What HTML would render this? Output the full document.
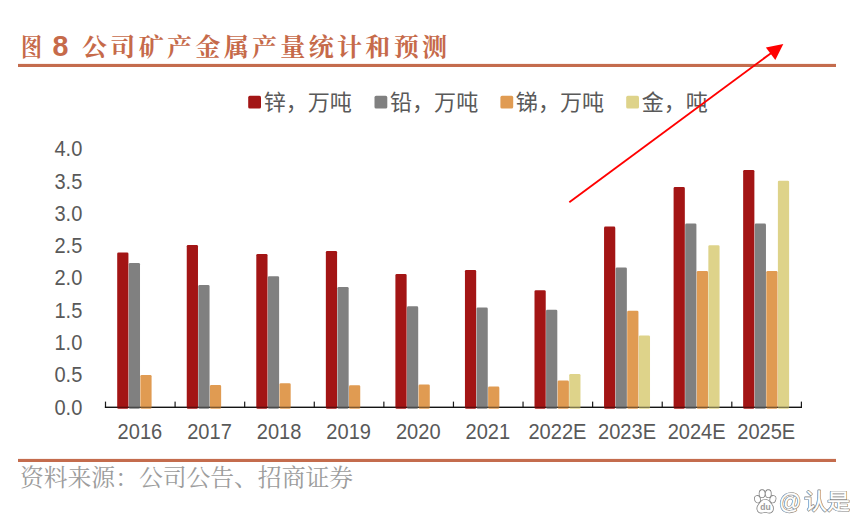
<!DOCTYPE html>
<html lang="zh"><head><meta charset="utf-8"><title>图 8 公司矿产金属产量统计和预测</title>
<style>html,body{margin:0;padding:0;background:#fff}body{width:867px;height:531px;overflow:hidden;position:relative;font-family:"Liberation Sans",sans-serif}svg{position:absolute;left:0;top:0;display:block}.n{font-family:"Liberation Sans",sans-serif;fill:#595959}.t{font-family:"Liberation Serif","Noto Serif CJK SC",serif;font-weight:bold;fill:#C66A4A}.l{font-family:"Liberation Sans","Noto Sans CJK SC",sans-serif;fill:#595959}.s{font-family:"Liberation Serif","Noto Serif CJK SC",serif;fill:#9c9c9c}</style></head><body>
<svg width="867" height="531" viewBox="0 0 867 531">
<rect width="867" height="531" fill="#fff"/>
<rect x="18" y="63.9" width="818" height="3.1" fill="#C46C4D"/>
<rect x="18" y="458.9" width="818" height="3.1" fill="#C46C4D"/>
<text class="t" x="21" y="55.5" font-size="25" textLength="21" lengthAdjust="spacingAndGlyphs">图</text>
<text x="52.4" y="56.35" font-size="28.6" font-weight="bold" style="font-family:'Liberation Sans',sans-serif" fill="#C66A4A">8</text>
<text class="t" x="82" y="55.5" font-size="25" textLength="365" lengthAdjust="spacing">公司矿产金属产量统计和预测</text>
<rect x="248.2" y="95.8" width="12.8" height="12.8" rx="1.6" fill="#A31515"/>
<text class="l" x="263.65" y="110" font-size="22" textLength="88.32" lengthAdjust="spacingAndGlyphs">锌，万吨</text>
<rect x="374.5" y="95.8" width="12.8" height="12.8" rx="1.6" fill="#808080"/>
<text class="l" x="389.95" y="110" font-size="22" textLength="88.32" lengthAdjust="spacingAndGlyphs">铅，万吨</text>
<rect x="500.4" y="95.8" width="12.8" height="12.8" rx="1.6" fill="#E09B52"/>
<text class="l" x="515.85" y="110" font-size="22" textLength="88.32" lengthAdjust="spacingAndGlyphs">锑，万吨</text>
<rect x="626.2" y="95.8" width="12.8" height="12.8" rx="1.6" fill="#DED38A"/>
<text class="l" x="641.65" y="110" font-size="22" textLength="66.24" lengthAdjust="spacingAndGlyphs">金，吨</text>
<g fill="#1a1a1a">
<rect x="104.9" y="406.7" width="697.1" height="1.25"/>
<rect x="104.9" y="401.6" width="1.2" height="6"/>
<rect x="174.49" y="401.6" width="1.2" height="6"/>
<rect x="244.08" y="401.6" width="1.2" height="6"/>
<rect x="313.67" y="401.6" width="1.2" height="6"/>
<rect x="383.26" y="401.6" width="1.2" height="6"/>
<rect x="452.85" y="401.6" width="1.2" height="6"/>
<rect x="522.44" y="401.6" width="1.2" height="6"/>
<rect x="592.03" y="401.6" width="1.2" height="6"/>
<rect x="661.62" y="401.6" width="1.2" height="6"/>
<rect x="731.21" y="401.6" width="1.2" height="6"/>
<rect x="800.8" y="401.6" width="1.2" height="6"/>
</g>
<rect x="117.2" y="252.4" width="11.23" height="156.4" rx="1.3" fill="#A31515"/>
<rect x="128.78" y="262.9" width="11.23" height="145.9" rx="1.3" fill="#808080"/>
<rect x="140.36" y="374.9" width="11.23" height="33.9" rx="1.3" fill="#E09B52"/>
<rect x="186.75" y="245" width="11.23" height="163.8" rx="1.3" fill="#A31515"/>
<rect x="198.33" y="285.1" width="11.23" height="123.7" rx="1.3" fill="#808080"/>
<rect x="209.91" y="385.1" width="11.23" height="23.7" rx="1.3" fill="#E09B52"/>
<rect x="256.3" y="254.05" width="11.23" height="154.75" rx="1.3" fill="#A31515"/>
<rect x="267.88" y="276.3" width="11.23" height="132.5" rx="1.3" fill="#808080"/>
<rect x="279.46" y="383.3" width="11.23" height="25.5" rx="1.3" fill="#E09B52"/>
<rect x="325.85" y="251" width="11.23" height="157.8" rx="1.3" fill="#A31515"/>
<rect x="337.43" y="287" width="11.23" height="121.8" rx="1.3" fill="#808080"/>
<rect x="349.01" y="385.2" width="11.23" height="23.6" rx="1.3" fill="#E09B52"/>
<rect x="395.4" y="274.1" width="11.23" height="134.7" rx="1.3" fill="#A31515"/>
<rect x="406.98" y="306.35" width="11.23" height="102.45" rx="1.3" fill="#808080"/>
<rect x="418.56" y="384.4" width="11.23" height="24.4" rx="1.3" fill="#E09B52"/>
<rect x="464.95" y="270" width="11.23" height="138.8" rx="1.3" fill="#A31515"/>
<rect x="476.53" y="307.5" width="11.23" height="101.3" rx="1.3" fill="#808080"/>
<rect x="488.11" y="386.5" width="11.23" height="22.3" rx="1.3" fill="#E09B52"/>
<rect x="534.5" y="290.2" width="11.23" height="118.6" rx="1.3" fill="#A31515"/>
<rect x="546.08" y="309.7" width="11.23" height="99.1" rx="1.3" fill="#808080"/>
<rect x="557.66" y="380.4" width="11.23" height="28.4" rx="1.3" fill="#E09B52"/>
<rect x="569.24" y="373.9" width="11.23" height="34.9" rx="1.3" fill="#DED38A"/>
<rect x="604.05" y="226.6" width="11.23" height="182.2" rx="1.3" fill="#A31515"/>
<rect x="615.63" y="267.5" width="11.23" height="141.3" rx="1.3" fill="#808080"/>
<rect x="627.21" y="310.8" width="11.23" height="98" rx="1.3" fill="#E09B52"/>
<rect x="638.79" y="335.4" width="11.23" height="73.4" rx="1.3" fill="#DED38A"/>
<rect x="673.6" y="187.1" width="11.23" height="221.7" rx="1.3" fill="#A31515"/>
<rect x="685.18" y="223.4" width="11.23" height="185.4" rx="1.3" fill="#808080"/>
<rect x="696.76" y="270.9" width="11.23" height="137.9" rx="1.3" fill="#E09B52"/>
<rect x="708.34" y="245.2" width="11.23" height="163.6" rx="1.3" fill="#DED38A"/>
<rect x="743.15" y="170" width="11.23" height="238.8" rx="1.3" fill="#A31515"/>
<rect x="754.73" y="223.6" width="11.23" height="185.2" rx="1.3" fill="#808080"/>
<rect x="766.31" y="270.9" width="11.23" height="137.9" rx="1.3" fill="#E09B52"/>
<rect x="777.89" y="180.7" width="11.23" height="228.1" rx="1.3" fill="#DED38A"/>
<rect x="104.9" y="406.7" width="697.1" height="1.25" fill="#000" fill-opacity="0.45"/>
<text class="n" transform="translate(82.3,156.2) scale(0.929,1)" font-size="21.6" text-anchor="end">4.0</text>
<text class="n" transform="translate(82.3,188.51) scale(0.929,1)" font-size="21.6" text-anchor="end">3.5</text>
<text class="n" transform="translate(82.3,220.82) scale(0.929,1)" font-size="21.6" text-anchor="end">3.0</text>
<text class="n" transform="translate(82.3,253.13) scale(0.929,1)" font-size="21.6" text-anchor="end">2.5</text>
<text class="n" transform="translate(82.3,285.44) scale(0.929,1)" font-size="21.6" text-anchor="end">2.0</text>
<text class="n" transform="translate(82.3,317.75) scale(0.929,1)" font-size="21.6" text-anchor="end">1.5</text>
<text class="n" transform="translate(82.3,350.06) scale(0.929,1)" font-size="21.6" text-anchor="end">1.0</text>
<text class="n" transform="translate(82.3,382.37) scale(0.929,1)" font-size="21.6" text-anchor="end">0.5</text>
<text class="n" transform="translate(82.3,414.68) scale(0.929,1)" font-size="21.6" text-anchor="end">0.0</text>
<text class="n" transform="translate(139.9,438.5) scale(0.929,1)" font-size="21.6" text-anchor="middle">2016</text>
<text class="n" transform="translate(209.48,438.5) scale(0.929,1)" font-size="21.6" text-anchor="middle">2017</text>
<text class="n" transform="translate(279.08,438.5) scale(0.929,1)" font-size="21.6" text-anchor="middle">2018</text>
<text class="n" transform="translate(348.67,438.5) scale(0.929,1)" font-size="21.6" text-anchor="middle">2019</text>
<text class="n" transform="translate(418.26,438.5) scale(0.929,1)" font-size="21.6" text-anchor="middle">2020</text>
<text class="n" transform="translate(487.85,438.5) scale(0.929,1)" font-size="21.6" text-anchor="middle">2021</text>
<text class="n" transform="translate(557.44,438.5) scale(0.929,1)" font-size="21.6" text-anchor="middle">2022E</text>
<text class="n" transform="translate(627.03,438.5) scale(0.929,1)" font-size="21.6" text-anchor="middle">2023E</text>
<text class="n" transform="translate(696.62,438.5) scale(0.929,1)" font-size="21.6" text-anchor="middle">2024E</text>
<text class="n" transform="translate(766.21,438.5) scale(0.929,1)" font-size="21.6" text-anchor="middle">2025E</text>
<line x1="569.3" y1="202.2" x2="772" y2="52.4" stroke="#FF0000" stroke-width="1.9"/>
<polygon points="783.3,44.1 765.9,47.4 775.3,59.9" fill="#FF0000"/>
<text class="s" x="20" y="486" font-size="23.8" textLength="333" lengthAdjust="spacingAndGlyphs">资料来源：公司公告、招商证券</text>
<defs><filter id="ws" x="-10%" y="-25%" width="120%" height="150%"><feGaussianBlur stdDeviation="0.65"/></filter>
<g id="wm">
<text x="804" y="509" font-size="22" textLength="46" lengthAdjust="spacingAndGlyphs" style="font-family:'Liberation Sans','Noto Sans CJK SC',sans-serif">认是</text>
<text x="779" y="508.5" font-size="22" style="font-family:'Liberation Sans',sans-serif">@</text>
<g transform="translate(754.6,489.6)"><path d="M10.6 10.2 C14.2 10.2 15.4 13 17.2 15.4 C19.4 18.2 18.6 23 14.6 23 C12.8 23 12 22.4 10.6 22.4 C9.2 22.4 8.4 23 6.6 23 C2.6 23 1.8 18.2 4 15.4 C5.8 13 7 10.2 10.6 10.2 Z"/><ellipse cx="2.9" cy="9.6" rx="2.5" ry="3.3" transform="rotate(-15 2.9 9.6)"/><ellipse cx="7.5" cy="4.1" rx="2.5" ry="3.5"/><ellipse cx="13.7" cy="4.1" rx="2.5" ry="3.5"/><ellipse cx="18.3" cy="9.6" rx="2.5" ry="3.3" transform="rotate(15 18.3 9.6)"/></g>
</g></defs>
<use href="#wm" filter="url(#ws)" fill="#000" stroke="#000" stroke-width="1.7" stroke-linejoin="round" opacity="0.55"/>
<use href="#wm" fill="#fff" stroke="#fff" stroke-width="0.4"/>
<text x="760.3" y="510.4" font-size="8.5" font-weight="bold" fill="#9a9a9a" style="font-family:'Liberation Sans',sans-serif">du</text>
</svg></body></html>
